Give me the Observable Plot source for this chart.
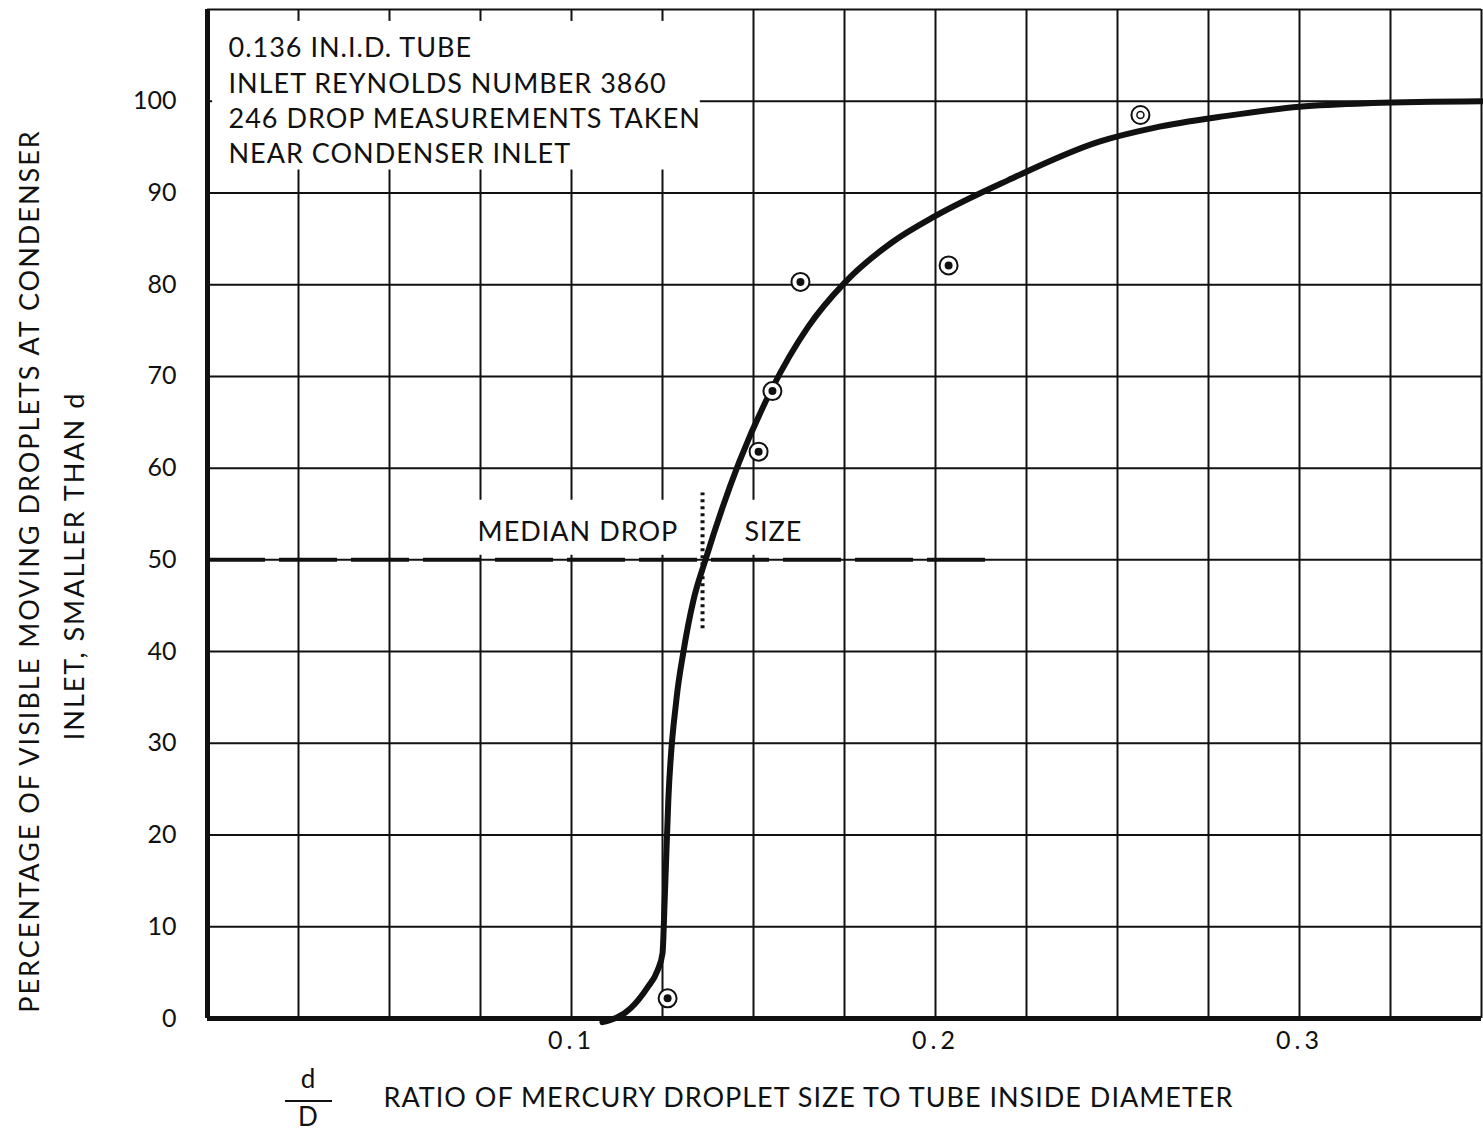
<!DOCTYPE html>
<html>
<head>
<meta charset="utf-8">
<script src="https://cdn.jsdelivr.net/npm/d3@7"></script>
<script src="https://cdn.jsdelivr.net/npm/@observablehq/plot@0.6"></script>
<style>
  html, body { margin: 0; padding: 0; background: #fff; }
  #chart svg { display: block; }
</style>
</head>
<body>
<div id="chart"></div>
<script>
// Axis ticks and grid
const xTickValues = [0.1, 0.2, 0.3];
const yTickValues = [0, 10, 20, 30, 40, 50, 60, 70, 80, 90, 100];
const xGridValues = d3.range(1, 15).map(i => +(i * 0.025).toFixed(3));
const yGridValues = [10, 20, 30, 40, 50, 60, 70, 80, 90, 100];

// Faired cumulative distribution curve (d/D, percent smaller than d)
const curveX = [0.1085, 0.1162, 0.1209, 0.1236, 0.1250, 0.1256, 0.1266, 0.1288, 0.1308, 0.1335,
                0.1368, 0.1460, 0.1550, 0.1650, 0.1750, 0.1880, 0.2000, 0.2200, 0.2450, 0.2600,
                0.2800, 0.3000, 0.3200, 0.3500];
const curveY = [-0.4, 1.1, 3.4, 5.2, 7.1, 12.9, 23.8, 34.7, 40.1, 45.6,
                50.0, 60.6, 68.6, 75.4, 80.2, 84.6, 87.5, 91.4, 95.6, 97.1,
                98.4, 99.4, 99.8, 100];

// Measured points
const pointX = [0.1264, 0.1514, 0.1552, 0.1629, 0.2036, 0.2563];
const pointY = [2.2, 61.8, 68.4, 80.3, 82.1, 98.5];
const pointFilled = [true, true, true, true, true, false];

// Median drop size
const medianPercent = 50;
const medianRatio = 0.136;

const infoLines = [
  "0.136 IN.I.D. TUBE",
  "INLET REYNOLDS NUMBER 3860",
  "246 DROP MEASUREMENTS TAKEN",
  "NEAR CONDENSER INLET"
];

const curve = curveX.map((x, i) => ({x, y: curveY[i]}));
const points = pointX.map((x, i) => ({x, y: pointY[i], filled: pointFilled[i]}));

const font = "Lato, 'Open Sans', sans-serif";
const ink = "#111";

// d/D fraction bar beside the x-axis title
function fraction(index, scales, values, dims) {
  const g = d3.create("svg:g");
  const cx = dims.marginLeft + 101;
  const base = dims.height - dims.marginBottom;
  g.append("line")
    .attr("x1", cx - 23).attr("x2", cx + 24)
    .attr("y1", base + 83).attr("y2", base + 83)
    .attr("stroke", ink).attr("stroke-width", 2);
  return g.node();
}

const chart = Plot.plot({
  width: 1483,
  height: 1136,
  marginLeft: 207,
  marginRight: 2,
  marginTop: 9,
  marginBottom: 118,
  x: {domain: [0, 0.35]},
  y: {domain: [0, 110]},
  style: {fontFamily: font, fontSize: "25px", background: "white", color: ink, letterSpacing: "1px"},
  marks: [
    Plot.gridX(xGridValues, {stroke: ink, strokeOpacity: 1, strokeWidth: 2}),
    Plot.gridY(yGridValues, {stroke: ink, strokeOpacity: 1, strokeWidth: 2}),
    Plot.ruleY([110], {stroke: ink, strokeWidth: 2}),
    // white panels behind the labels
    Plot.rect([0], {x1: 0.0014, x2: 0.1354, y1: 92.5, y2: 108.7, fill: "white"}),
    Plot.rect([0], {x1: 0.064, x2: 0.171, y1: 50.5, y2: 56.5, fill: "white"}),
    // frame
    Plot.ruleX([0], {stroke: ink, strokeWidth: 5}),
    Plot.ruleY([0], {stroke: ink, strokeWidth: 5}),
    // axes
    Plot.axisY(yTickValues, {label: null, tickSize: 0, tickPadding: 31, fontSize: 25, fill: ink}),
    Plot.axisX(xTickValues, {label: null, tickSize: 0, tickPadding: 13, fontSize: 25, fill: ink, tickFormat: d => d.toFixed(1)}),
    // axis titles
    Plot.text(["PERCENTAGE OF VISIBLE MOVING DROPLETS AT CONDENSER"],
      {frameAnchor: "left", textAnchor: "middle", dx: -177, dy: 57, rotate: -90, fontSize: 27, fill: ink}),
    Plot.text(["INLET, SMALLER THAN d"],
      {frameAnchor: "left", textAnchor: "middle", dx: -132, dy: 52, rotate: -90, fontSize: 27, fill: ink}),
    Plot.text(["RATIO OF MERCURY DROPLET SIZE TO TUBE INSIDE DIAMETER"],
      {frameAnchor: "bottom-left", dx: 176, dy: 88, textAnchor: "start", fontSize: 27, fill: ink}),
    Plot.text(["d"], {frameAnchor: "bottom-left", textAnchor: "middle", dx: 101, dy: 69, fontSize: 26, fill: ink}),
    Plot.text(["D"], {frameAnchor: "bottom-left", textAnchor: "middle", dx: 101, dy: 107, fontSize: 26, fill: ink}),
    fraction,
    // info block
    Plot.text([infoLines.join("\n")],
      {frameAnchor: "top-left", dx: 21, dy: 23, lineAnchor: "top", lineHeight: 1.3,
       textAnchor: "start", fontSize: 27, fill: ink}),
    // median drop size
    Plot.ruleY([medianPercent], {x1: 0, x2: 0.214, stroke: ink, strokeWidth: 4, strokeDasharray: "58,14"}),
    Plot.ruleX([medianRatio], {y1: 42.5, y2: 57.3, stroke: ink, strokeWidth: 4, strokeDasharray: "3,4"}),
    Plot.text(["MEDIAN DROP"], {x: 0.0742, y: 53, textAnchor: "start", fontSize: 27, fill: ink}),
    Plot.text(["SIZE"], {x: 0.1475, y: 53, textAnchor: "start", fontSize: 27, fill: ink}),
    // curve and data points
    Plot.line(curve, {x: "x", y: "y", curve: "monotone-x", stroke: ink, strokeWidth: 6}),
    Plot.dot(points, {x: "x", y: "y", r: 9, stroke: ink, strokeWidth: 2, fill: "white"}),
    Plot.dot(points.filter(d => d.filled), {x: "x", y: "y", r: 4, fill: ink}),
    Plot.dot(points.filter(d => !d.filled), {x: "x", y: "y", r: 3.5, stroke: ink, strokeWidth: 1.5, fill: "none"})
  ]
});

const svg = d3.select(chart);
svg.selectAll("[aria-label='y-axis tick label'] text").attr("letter-spacing", "0px");
svg.selectAll("[aria-label='x-axis tick label'] text").attr("letter-spacing", "4px");
// the rotated y-axis title is set a little more openly
svg.selectAll("text").filter(function() {
  const t = this.textContent;
  return t.startsWith("PERCENTAGE") || t.startsWith("INLET, SMALLER");
}).attr("letter-spacing", "2px");
document.getElementById("chart").appendChild(chart);
</script>
</body>
</html>
